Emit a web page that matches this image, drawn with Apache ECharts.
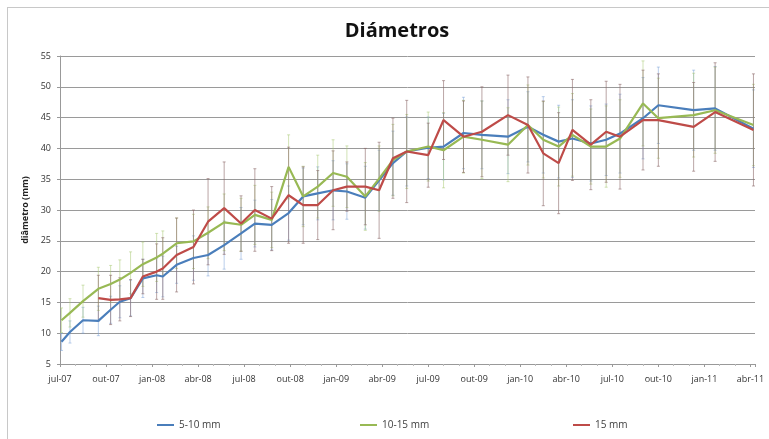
<!DOCTYPE html>
<html><head><meta charset="utf-8">
<script src="https://cdn.jsdelivr.net/npm/echarts@6/dist/echarts.min.js"></script>
<style>html,body{margin:0;padding:0;background:#fff}#c{width:769px;height:439px}</style>
</head><body><div id="c"></div>
<script>
// month index since jul-07
const months = [0.1,0.65,1.5,2.5,3.3,3.9,4.6,5.4,6.3,6.7,7.6,8.7,9.65,10.7,11.8,12.7,13.8,14.9,15.85,16.8,17.8,18.7,19.9,20.8,21.7,22.6,24.0,25.0,26.3,27.5,29.2,30.5,31.5,32.5,33.4,34.6,35.6,36.5,38.0,39.0,41.3,42.7,45.2];
const tickLabels = ['jul-07','out-07','jan-08','abr-08','jul-08','out-08','jan-09','abr-09','jul-09','out-09','jan-10','abr-10','jul-10','out-10','jan-11','abr-11'];
const seriesNames = ['5-10 mm','10-15 mm','15 mm'];
const v510 = [8.6,10.2,12.1,12.0,13.8,15.1,15.7,18.9,19.4,19.2,21.1,22.2,22.7,24.3,26.2,27.8,27.6,29.5,32.2,32.7,33.2,33.0,32.0,34.8,37.6,39.5,40.1,40.3,42.5,42.2,41.9,43.5,42.2,41.1,41.6,40.8,41.4,42.4,44.9,47.0,46.2,46.5,43.2];
const v1015 = [12.1,13.3,15.2,17.2,18.0,18.7,19.8,21.2,22.3,22.9,24.6,24.9,26.3,28.0,27.6,29.2,28.4,37.0,32.2,33.8,36.0,35.4,32.2,35.1,38.1,39.5,40.3,39.7,41.9,41.4,40.6,43.8,41.4,40.3,42.2,40.3,40.3,41.6,47.3,44.9,45.4,46.2,43.8];
const v15 = [null,null,null,15.7,15.4,15.5,15.7,19.2,20.0,20.5,22.7,24.0,28.1,30.3,27.8,30.0,28.6,32.4,30.8,30.8,33.2,33.8,33.8,33.2,38.4,39.5,38.9,44.6,41.9,42.7,45.4,43.8,39.2,37.6,43.0,40.6,42.7,41.9,44.6,44.6,43.5,45.9,43.0];
const e510 = [1.4,1.8,2.1,2.4,2.2,2.6,2.9,3.1,2.8,3.3,3.0,3.6,3.4,3.9,4.2,3.8,4.1,4.4,4.6,4.3,4.8,4.5,5.1,4.9,5.2,5.6,5.0,5.4,5.8,5.5,6.0,5.7,6.2,5.9,6.3,6.1,5.8,6.4,6.6,6.2,6.5,6.8,6.3];
const e1015 = [2.0,2.3,2.6,3.5,3.0,3.2,3.4,3.6,3.9,3.7,4.1,4.4,4.2,4.6,4.3,4.8,4.5,5.2,4.9,5.1,5.4,5.0,5.5,5.3,5.8,6.0,5.6,6.1,5.9,6.3,6.0,6.5,6.2,6.4,6.7,6.1,6.6,6.3,6.9,6.5,6.8,7.0,6.6];
const e15 = [null,null,null,3.7,4.0,3.5,3.0,2.8,4.5,5.0,6.0,6.0,7.0,7.5,4.5,6.7,5.2,7.8,6.2,5.6,6.4,4.0,6.2,7.8,6.5,8.3,5.2,6.4,5.8,7.3,6.5,7.8,8.5,8.2,8.2,7.3,8.2,8.5,8.1,7.5,7.2,8.0,9.1];

const lineColors = ['#4A7EBB','#98B954','#BE4B48'];
const barColors = ['rgba(120,160,215,0.5)','rgba(165,200,110,0.5)','rgba(140,105,105,0.6)'];

function lineData(vals){ return months.map((m,i)=>[m, vals[i]==null?'-':vals[i]]); }
function errData(vals, errs){
  const out=[];
  months.forEach((m,i)=>{ if(vals[i]!=null) out.push([m, vals[i]-errs[i], vals[i]+errs[i]]); });
  return out;
}
function errSeries(vals, errs, color){
  return {
    type:'custom', silent:true, z:1,
    data: errData(vals, errs),
    encode:{x:0, y:[1,2]},
    renderItem(params, api){
      const x=api.value(0), lo=api.value(1), hi=api.value(2);
      const a=api.coord([x,lo]), b=api.coord([x,hi]);
      const c=1.5;
      const st={stroke:color, lineWidth:1};
      return {type:'group', children:[
        {type:'line', shape:{x1:a[0],y1:a[1],x2:b[0],y2:b[1]}, style:st},
        {type:'line', shape:{x1:a[0]-c,y1:a[1],x2:a[0]+c,y2:a[1]}, style:st},
        {type:'line', shape:{x1:b[0]-c,y1:b[1],x2:b[0]+c,y2:b[1]}, style:st}
      ]};
    }
  };
}
const allVals=[v510,v1015,v15], allErr=[e510,e1015,e15];
const series=[];
allVals.forEach((v,i)=>series.push(errSeries(v, allErr[i], barColors[i])));
allVals.forEach((v,i)=>series.push({
  name:seriesNames[i], type:'line', data:lineData(v), showSymbol:false, symbol:'none', z:3,
  lineStyle:{color:lineColors[i], width:2.2}, itemStyle:{color:lineColors[i]}
}));

const font='"Open Sans", "Liberation Sans", sans-serif';
const legendPos=[152,355,568];
const chart=echarts.init(document.getElementById('c'));
chart.setOption({
  animation:false,
  backgroundColor:'#fff',
  title:{text:'Diámetros', left:392, top:16, textAlign:'center',
    textStyle:{fontFamily:font, fontWeight:'bold', fontSize:20, color:'#111'}},
  legend: seriesNames.map((n,i)=>({data:[n], left:legendPos[i], top:415, icon:'rect', itemWidth:17, itemHeight:2, itemGap:5,
    textStyle:{fontFamily:font, fontSize:10, color:'#404040'}})),
  grid:{left:60, right:14, top:56, bottom:75, containLabel:false},
  xAxis:{type:'value', min:0, max:45.3, interval:3,
    axisLine:{show:true, onZero:false, lineStyle:{color:'#999', width:1}},
    axisTick:{show:true, length:3, inside:false, lineStyle:{color:'#999'}},
    minorTick:{show:true, splitNumber:3, length:2, lineStyle:{color:'#bbb'}},
    splitLine:{show:false},
    axisLabel:{margin:11, fontFamily:font, fontSize:9, color:'#333', showMaxLabel:false,
      formatter:(v)=>{const k=Math.round(v/3); return Math.abs(v-k*3)<1e-6 && tickLabels[k]?tickLabels[k]:'';}}
  },
  yAxis:{type:'value', min:5, max:55, interval:5,
    name:'diâmetro (mm)', nameLocation:'middle', nameGap:27, nameRotate:90,
    nameTextStyle:{fontFamily:font, fontSize:9, fontWeight:'bold', color:'#222'},
    axisLine:{show:true, lineStyle:{color:'#999', width:1}},
    axisTick:{show:true, length:3, lineStyle:{color:'#999'}},
    splitLine:{show:true, lineStyle:{color:'#9a9a9a', width:1}},
    axisLabel:{margin:9, fontFamily:font, fontSize:9, color:'#333'}
  },
  graphic:[
    {type:'line', shape:{x1:7,y1:7.5,x2:769,y2:7.5}, style:{stroke:'#c8c8c8', lineWidth:1}, silent:true},
    {type:'line', shape:{x1:7.5,y1:7,x2:7.5,y2:439}, style:{stroke:'#c8c8c8', lineWidth:1}, silent:true}
  ],
  series
});
</script></body></html>
